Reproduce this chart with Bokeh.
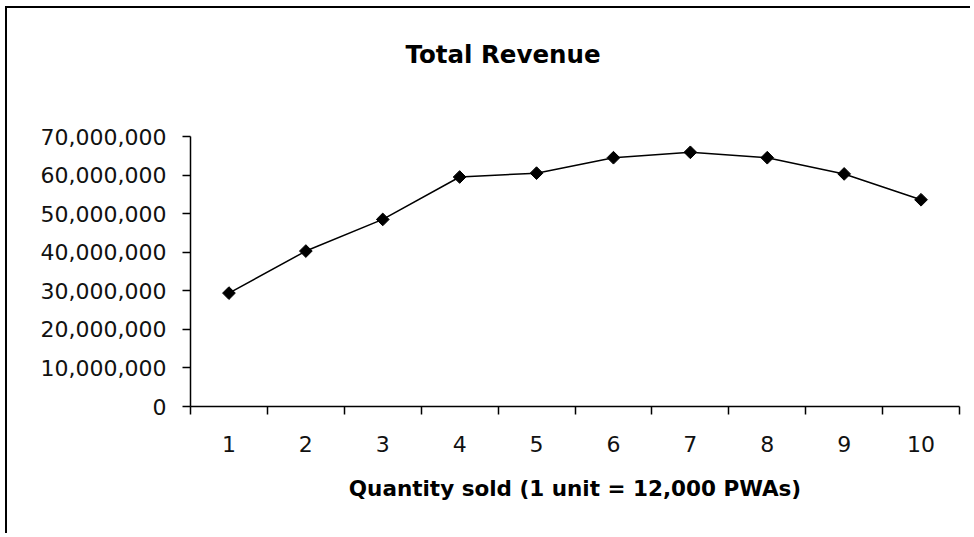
from bokeh.plotting import figure
from bokeh.models import Range1d, FixedTicker, NumeralTickFormatter, Title
from bokeh.embed import file_html
from bokeh.resources import INLINE

# data
quantity = [1, 2, 3, 4, 5, 6, 7, 8, 9, 10]
revenue = [29_400_000, 40_300_000, 48_500_000, 59_500_000, 60_500_000,
           64_500_000, 65_900_000, 64_500_000, 60_300_000, 53_600_000]
y_ticks = [0, 10_000_000, 20_000_000, 30_000_000, 40_000_000,
           50_000_000, 60_000_000, 70_000_000]
x_bounds = [0.5, 1.5, 2.5, 3.5, 4.5, 5.5, 6.5, 7.5, 8.5, 9.5, 10.5]

title_text = "Total Revenue"
x_label = "Quantity sold (1 unit = 12,000 PWAs)"

FONT = "DejaVu Sans"

p = figure(width=965, height=527, output_backend="svg", toolbar_location=None,
           x_range=Range1d(0.5, 10.5), y_range=Range1d(0, 70_000_000),
           title=None,
           min_border_left=183, min_border_right=13,
           min_border_top=128, min_border_bottom=129)

p.margin = (6, 0, 0, 5)
p.styles = {"border-left": "2px solid #000000", "border-top": "2px solid #000000"}

p.outline_line_color = None
p.background_fill_color = "white"
p.border_fill_color = "white"
p.xgrid.visible = False
p.ygrid.visible = False

# spacer between frame and title, then the title itself
spacer = Title(text=" ", text_font=FONT, text_font_size="44px", standoff=10)
p.add_layout(spacer, "above")
main_title = Title(text=title_text, text_font=FONT, text_font_size="24.5px",
                   text_font_style="bold", text_color="#000000",
                   align="left", offset=215, standoff=10)
p.add_layout(main_title, "above")

# x axis
xa = p.xaxis[0]
xa.ticker = FixedTicker(ticks=quantity, minor_ticks=x_bounds)
xa.major_tick_out = 0
xa.major_tick_in = 0
xa.minor_tick_out = 8
xa.minor_tick_in = 0
xa.minor_tick_line_color = "#000000"
xa.minor_tick_line_width = 1.5
xa.axis_line_color = "#000000"
xa.axis_line_width = 1.5
xa.major_label_text_font = FONT
xa.major_label_text_font_size = "22px"
xa.major_label_text_color = "#111111"
xa.major_label_standoff = 21
xa.axis_label = x_label
xa.axis_label_text_font = FONT
xa.axis_label_text_font_size = "21.5px"
xa.axis_label_text_font_style = "bold"
xa.axis_label_text_color = "#000000"
xa.axis_label_standoff = 21

# y axis
ya = p.yaxis[0]
ya.ticker = FixedTicker(ticks=y_ticks, minor_ticks=[])
ya.formatter = NumeralTickFormatter(format="0,0")
ya.major_tick_out = 8
ya.major_tick_in = 0
ya.major_tick_line_color = "#000000"
ya.major_tick_line_width = 1.5
ya.minor_tick_out = 0
ya.minor_tick_in = 0
ya.axis_line_color = "#000000"
ya.axis_line_width = 1.5
ya.major_label_text_font = FONT
ya.major_label_text_font_size = "22px"
ya.major_label_text_color = "#111111"
ya.major_label_standoff = 16

# series
p.line(quantity, revenue, line_color="#000000", line_width=1.5)
p.scatter(quantity, revenue, marker="square", angle=0.785398, size=9,
          fill_color="#000000", line_color="#000000")

open("out.html", "w").write(file_html(p, INLINE))
